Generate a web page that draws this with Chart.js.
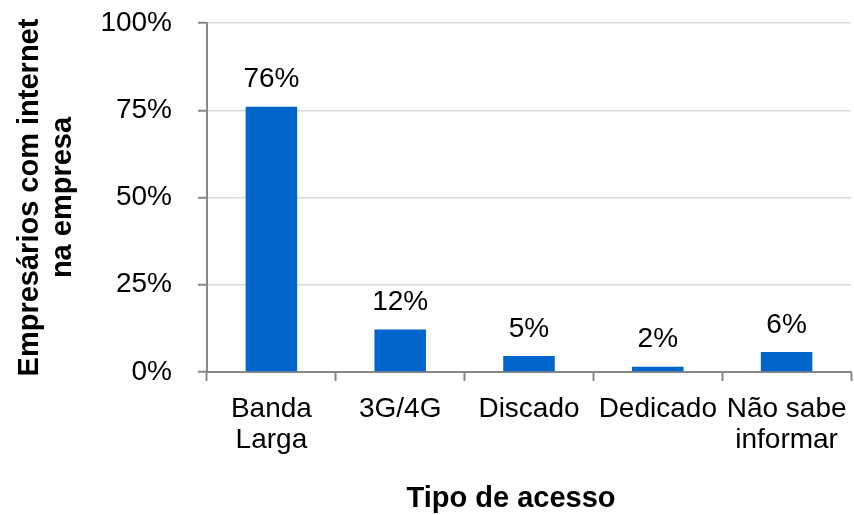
<!DOCTYPE html>
<html>
<head>
<meta charset="utf-8">
<script src="https://cdn.jsdelivr.net/npm/chart.js@4.4.1/dist/chart.umd.min.js"></script>
<style>
  html, body { margin: 0; padding: 0; background: #fff; }
  #wrap { width: 854px; height: 515px; }
</style>
</head>
<body>
<div id="wrap"><canvas id="acessoChart" width="854" height="515"></canvas></div>
<script>
// Data
const categories = [['Banda', 'Larga'], '3G/4G', 'Discado', 'Dedicado', ['Não sabe', 'informar']];
const shares = [76, 12.2, 4.6, 1.5, 5.7];
const yTicks = [0, 25, 50, 75, 100];
const xTitle = 'Tipo de acesso';

const FONT = "'Liberation Sans', Arial, sans-serif";

// Value labels above the bars, plus the x title (sits a bit left of centre in the original)
const barLabels = {
    id: 'barLabels',
    afterDatasetsDraw(chart) {
        const ctx = chart.ctx;
        const meta = chart.getDatasetMeta(0);
        ctx.save();
        ctx.font = '28px ' + FONT;
        ctx.fillStyle = '#000';
        ctx.textAlign = 'center';
        ctx.textBaseline = 'middle';
        meta.data.forEach((bar, i) => {
            ctx.fillText(Math.round(shares[i]) + '%', bar.x, bar.y - 27);
        });
        const area = chart.chartArea;
        ctx.font = 'bold 29px ' + FONT;
        ctx.fillText(xTitle, (area.left + area.right) / 2 - 18, chart.height - 16);
        ctx.restore();
    }
};

const ctx = document.getElementById('acessoChart').getContext('2d');
new Chart(ctx, {
    type: 'bar',
    data: {
        labels: categories,
        datasets: [{
            data: shares,
            backgroundColor: '#0066CC',
            borderWidth: 0,
            barPercentage: 0.4,
            categoryPercentage: 1
        }]
    },
    options: {
        responsive: false,
        animation: false,
        events: [],
        layout: { padding: { top: 23, right: 3, left: 0, bottom: 0 } },
        plugins: {
            legend: { display: false },
            tooltip: { enabled: false }
        },
        scales: {
            x: {
                grid: {
                    offset: true,
                    drawOnChartArea: false,
                    drawTicks: true,
                    tickLength: 9,
                    tickColor: '#878787',
                    tickWidth: 2
                },
                border: { color: '#878787', width: 2 },
                ticks: {
                    color: '#000',
                    padding: 12,
                    maxRotation: 0,
                    autoSkip: false,
                    font: { family: FONT, size: 28, lineHeight: 1.13 }
                },
                title: { display: false },
                afterFit(scale) {
                    scale.height = 143;
                    scale.paddingLeft = 0;
                    scale.paddingRight = 0;
                }
            },
            y: {
                min: 0,
                max: 100,
                afterBuildTicks(scale) { scale.ticks = yTicks.map(v => ({ value: v })); },
                grid: {
                    color: '#d9d9d9',
                    lineWidth: 1.5,
                    drawTicks: true,
                    tickLength: 9,
                    tickColor: '#878787',
                    tickWidth: 2
                },
                border: { color: '#878787', width: 2 },
                ticks: {
                    color: '#000',
                    padding: 26,
                    callback: v => v + '%',
                    font: { family: FONT, size: 28 }
                },
                title: {
                    display: true,
                    text: ['Empresários com internet', 'na empresa'],
                    color: '#000',
                    padding: { top: 13, bottom: 0 },
                    font: { family: FONT, size: 29, weight: 'bold', lineHeight: 1.16 }
                },
                afterFit(scale) {
                    scale.width = 207;
                    scale.paddingTop = 0;
                    scale.paddingBottom = 0;
                }
            }
        }
    },
    plugins: [barLabels]
});
</script>
</body>
</html>
